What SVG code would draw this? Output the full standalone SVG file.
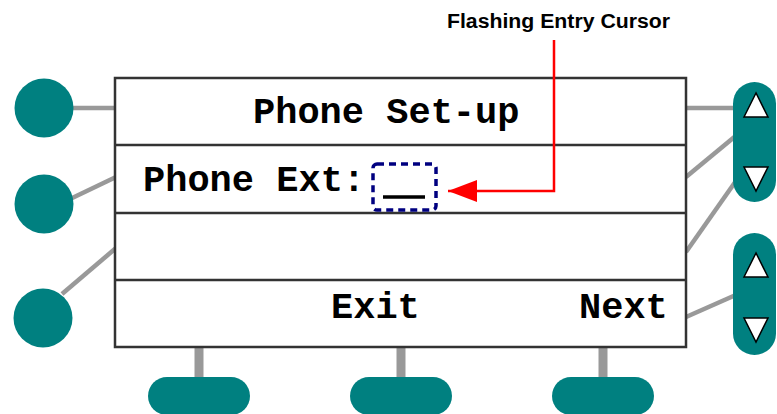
<svg xmlns="http://www.w3.org/2000/svg" width="777" height="414" viewBox="0 0 777 414">
<defs>
<style>
.btn{fill:#008080}
.conn{stroke:#999999;stroke-width:4.5;fill:none}
.stem{stroke:#999999;stroke-width:9;fill:none}
.tri{fill:#ffffff;stroke:#000000;stroke-width:1.5;stroke-linejoin:miter}
.lcd{font-family:"Liberation Mono","Courier New",monospace;font-weight:bold;font-size:37px;fill:#000000}
.div{stroke:#333333;stroke-width:2.5}
</style>
<marker id="arr" markerWidth="30" markerHeight="22" refX="29" refY="11" orient="auto" markerUnits="userSpaceOnUse">
<path d="M0,0 L29,11 L0,22 Z" fill="#ff0000"/>
</marker>
</defs>
<rect width="777" height="414" fill="#ffffff"/>
<g id="connectors">
<line class="conn" x1="60" y1="108" x2="116" y2="108"/>
<line class="conn" x1="68" y1="200" x2="116" y2="177"/>
<line class="conn" x1="62" y1="294" x2="116" y2="248"/>
<line class="conn" x1="686" y1="108" x2="740" y2="108"/>
<line class="conn" x1="686" y1="177" x2="738" y2="134"/>
<line class="conn" x1="686" y1="252" x2="738" y2="178"/>
<line class="conn" x1="686" y1="317" x2="738" y2="294"/>
<line class="stem" x1="199" y1="347" x2="199" y2="380"/>
<line class="stem" x1="401" y1="347" x2="401" y2="380"/>
<line class="stem" x1="603" y1="347" x2="603" y2="380"/>
</g>
<g id="screen">
<rect x="115" y="78" width="571" height="269" fill="#ffffff" stroke="#333333" stroke-width="2.5"/>
<line class="div" x1="115" y1="145" x2="686" y2="145"/>
<line class="div" x1="115" y1="213" x2="686" y2="213"/>
<line class="div" x1="115" y1="280" x2="686" y2="280"/>
<text class="lcd" x="253" y="123">Phone Set-up</text>
<text class="lcd" x="143" y="191">Phone Ext:</text>
<text class="lcd" x="331" y="318">Exit</text>
<text class="lcd" x="579" y="318">Next</text>
</g>
<g id="cursor">
<rect x="373" y="164" width="63" height="46" rx="4" fill="none" stroke="#000080" stroke-width="3.5" stroke-dasharray="7,5"/>
<line x1="383" y1="197" x2="425" y2="197" stroke="#000000" stroke-width="3.5"/>
</g>
<g id="cursor-label">
<text x="447" y="28" font-family="'Liberation Sans',Arial,sans-serif" font-weight="bold" font-size="20" textLength="223" lengthAdjust="spacingAndGlyphs" fill="#000000">Flashing Entry Cursor</text>
</g>
<g id="pointer">
<path d="M554,40 L554,191 L448,191" stroke="#ff0000" stroke-width="2.5" fill="none" marker-end="url(#arr)"/>
</g>
<g id="left-btn-1"><circle class="btn" cx="44" cy="108" r="29.5"/></g>
<g id="left-btn-2"><circle class="btn" cx="44" cy="204" r="29.5"/></g>
<g id="left-btn-3"><circle class="btn" cx="43" cy="318" r="29.5"/></g>
<g id="right-rocker-1">
<rect class="btn" x="733" y="82" width="43" height="120" rx="21.5"/>
<polygon class="tri" points="756,93 744,117 768,117"/>
<polygon class="tri" points="744,167 768,167 756,191"/>
</g>
<g id="right-rocker-2">
<rect class="btn" x="733" y="233" width="43" height="122" rx="21.5"/>
<polygon class="tri" points="756,253 744,277 768,277"/>
<polygon class="tri" points="744,318 768,318 756,342"/>
</g>
<g id="soft-key-1"><rect class="btn" x="148" y="377" width="102" height="38" rx="19"/></g>
<g id="soft-key-2"><rect class="btn" x="350" y="377" width="102" height="38" rx="19"/></g>
<g id="soft-key-3"><rect class="btn" x="552" y="377" width="102" height="38" rx="19"/></g>
</svg>
